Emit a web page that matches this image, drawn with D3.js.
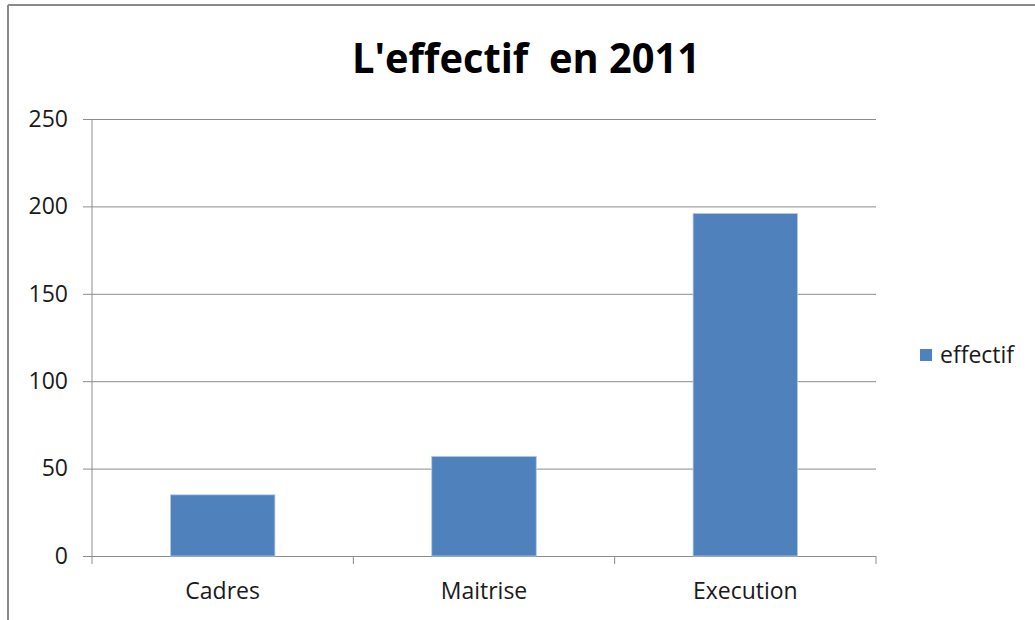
<!DOCTYPE html>
<html>
<head>
<meta charset="utf-8">
<script src="https://cdn.jsdelivr.net/npm/d3@7"></script>
<style>
  body { margin: 0; background: #fff; }
  svg { display: block; font-family: "Open Sans", "Noto Sans", sans-serif; }
</style>
</head>
<body>
<div id="container"></div>
<script>
const categories = ["Cadres", "Maitrise", "Execution"];
const effectif = [35, 57, 196];
const yTicks = [0, 50, 100, 150, 200, 250];
const seriesName = "effectif";
const titleText = "L'effectif  en 2011";

const W = 1035, H = 620;
const margin = { top: 119, right: 159, bottom: 64, left: 92 };
const width = W - margin.left - margin.right;
const height = H - margin.top - margin.bottom;

const svg = d3.select("#container").append("svg")
    .attr("width", W)
    .attr("height", H);

// outer frame (only top and left edges are visible)
svg.append("line")
    .attr("x1", 8).attr("x2", W).attr("y1", 5).attr("y2", 5)
    .attr("stroke", "#8a8a8a").attr("stroke-width", 2);
svg.append("line")
    .attr("x1", 8).attr("x2", 8).attr("y1", 5).attr("y2", H)
    .attr("stroke", "#8a8a8a").attr("stroke-width", 2);

// original face is narrow, so squeeze a taller bold font into the same width
svg.append("text")
    .attr("x", 526).attr("y", 73)
    .attr("text-anchor", "middle")
    .attr("font-weight", "bold")
    .attr("font-size", 42)
    .attr("fill", "#000")
    .style("white-space", "pre")
    .attr("textLength", 348)
    .attr("lengthAdjust", "spacingAndGlyphs")
    .text(titleText);

const g = svg.append("g")
    .attr("transform", `translate(${margin.left},${margin.top})`);

const x = d3.scaleBand()
    .domain(categories)
    .range([0, width])
    .paddingInner(0.6)
    .paddingOuter(0.3);

const y = d3.scaleLinear()
    .domain([0, 250])
    .range([height, 0]);

// gridlines + y ticks
const yAxis = g.append("g")
    .call(d3.axisLeft(y).tickValues(yTicks).tickSize(-width).tickSizeOuter(0));
yAxis.select(".domain").remove();
yAxis.selectAll(".tick line")
    .attr("x1", -9)
    .attr("stroke", "#8c8c8c");
yAxis.selectAll(".tick text")
    .attr("font-size", 23)
    .attr("fill", "#1a1a1a")
    .attr("font-family", "'Open Sans', sans-serif")
    .attr("x", -24);

// y axis line
g.append("line")
    .attr("x1", 0).attr("x2", 0)
    .attr("y1", 0).attr("y2", height + 8)
    .attr("stroke", "#8c8c8c");

// category tick marks at band edges
const step = width / categories.length;
g.selectAll(".cat-tick")
    .data(d3.range(1, categories.length + 1))
    .enter().append("line")
    .attr("class", "cat-tick")
    .attr("x1", d => d * step).attr("x2", d => d * step)
    .attr("y1", height).attr("y2", height + 8)
    .attr("stroke", "#8c8c8c");

g.selectAll(".bar")
    .data(effectif)
    .enter().append("rect")
    .attr("class", "bar")
    .attr("x", (d, i) => x(categories[i]))
    .attr("width", x.bandwidth())
    .attr("y", d => y(d))
    .attr("height", d => height - y(d))
    .attr("fill", "#4f81bd")
    .attr("stroke", "#b9cde5")
    .attr("stroke-width", 0.8);

g.selectAll(".cat-label")
    .data(categories)
    .enter().append("text")
    .attr("class", "cat-label")
    .attr("x", d => x(d) + x.bandwidth() / 2)
    .attr("y", height + 43)
    .attr("text-anchor", "middle")
    .attr("font-size", 23)
    .attr("fill", "#1a1a1a")
    .text(d => d);

// legend
const legend = svg.append("g").attr("transform", "translate(920,349)");
legend.append("rect")
    .attr("width", 12).attr("height", 12)
    .attr("fill", "#4f81bd");
legend.append("text")
    .attr("x", 20).attr("y", 14)
    .attr("font-size", 23)
    .attr("fill", "#1a1a1a")
    .text(seriesName);
</script>
</body>
</html>
